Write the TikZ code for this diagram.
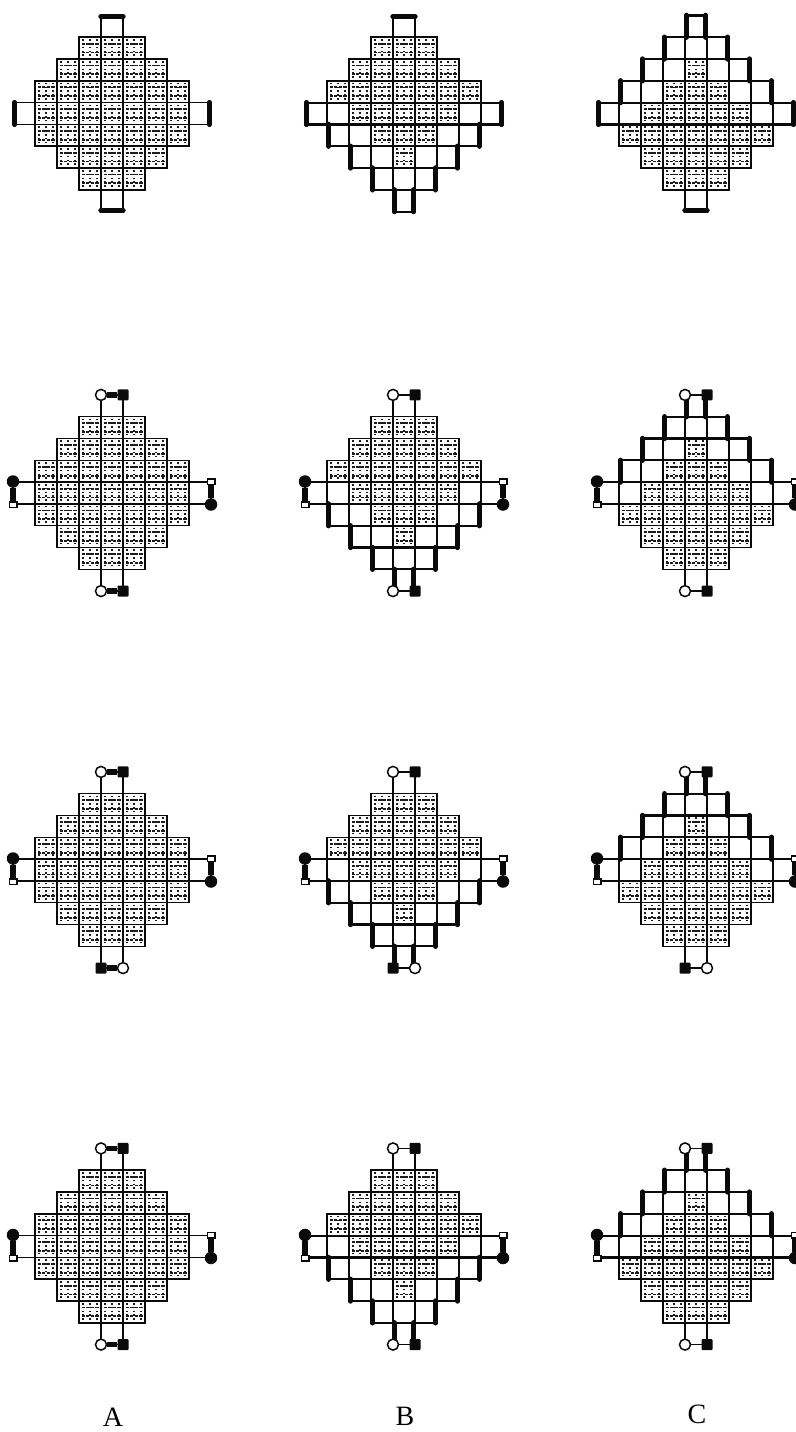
\documentclass[tikz,border=0pt]{standalone}
\usepackage{fontspec}
\setmainfont{Liberation Serif}
\usepackage{tikz}
\usetikzlibrary{positioning,calc}
\definecolor{latInk}{HTML}{0A0A0A}
\definecolor{latDot}{HTML}{1C1C1C}
\tikzset{
  latCell/.style={draw=latInk, line width=1.5pt},
  latDash/.style={draw=latDot, line width=1.8pt, dash pattern=on 3.2pt off 1.4pt},
  latDotted/.style={draw=latDot, line width=1.5pt, dash pattern=on 1.6pt off 2.2pt},
  latHeavy/.style={draw=latInk, line width=5.4pt, line cap=round},
  latMedium/.style={draw=latInk, line width=2.2pt, line cap=round},
  latThin/.style={draw=latInk, line width=1.5pt},
  latOpen/.style={circle, draw=latInk, fill=white, line width=1.5pt, minimum size=11pt, inner sep=0pt},
  latDisc/.style={circle, fill=latInk, minimum size=12.5pt, inner sep=0pt},
  latBlock/.style={rectangle, rounded corners=1pt, fill=latInk, minimum size=11pt, inner sep=0pt},
  latSlot/.style={rectangle, draw=latInk, fill=white, line width=1.5pt, minimum width=7.5pt, minimum height=5.5pt, inner sep=0pt},
  latLabel/.style={font=\fontsize{28}{30}\selectfont, inner sep=0pt}
}
% #1 name, #2 x, #3 y, #4 kind (0,1,2), #5 ends (0 bare, 1 open left, 2 open right)
\newcommand{\latticePanel}[5]{
  \begin{scope}[shift={(#2,#3)}]
    \pgfmathsetmacro{\flipY}{#4==2 ? -1 : 1}
    \foreach \r in {0,...,8} {
      \pgfmathtruncatemacro{\halfW}{4-abs(\r-4)}
      \pgfmathtruncatemacro{\lowC}{-\halfW}
      \pgfmathtruncatemacro{\rowK}{#4==2 ? 8-\r : \r}
      \pgfmathtruncatemacro{\limC}{#4==0 ? (\r==4 ? 3 : ((\r==0 || \r==8) ? -1 : \halfW)) : (\rowK==0 ? -1 : (\rowK<4 ? \rowK : 6-\rowK))}
      \foreach \c in {\lowC,...,\halfW} {
        \pgfmathsetmacro{\cx}{\c*22}
        \pgfmathsetmacro{\cy}{(\r-4)*21.8}
        \draw[latCell] (\cx-11,\cy-10.9) rectangle (\cx+11,\cy+10.9);
        \pgfmathtruncatemacro{\isShaded}{abs(\c)<=\limC ? 1 : 0}
        \ifnum\isShaded=1
          \draw[latDash] (\cx-8.5,\cy-4.4) -- (\cx+8.5,\cy-4.4);
          \draw[latDash] (\cx-8.5,\cy+4.4) -- (\cx+8.5,\cy+4.4);
          \draw[latDotted] (\cx-7,\cy-9) -- (\cx-7,\cy+9);
          \draw[latDotted] (\cx,\cy-9) -- (\cx,\cy+9);
          \draw[latDotted] (\cx+7,\cy-9) -- (\cx+7,\cy+9);
        \fi
      }
    }
    \ifnum#4>0
      \foreach \k in {1,...,4} {
        \pgfmathsetmacro{\edgeX}{(4.5-\k)*22-1.5}
        \pgfmathsetmacro{\edgeA}{(\k-0.5)*21.8*\flipY}
        \pgfmathsetmacro{\edgeB}{(\k+0.5)*21.8*\flipY}
        \draw[latHeavy] (-\edgeX,\edgeA) -- (-\edgeX,\edgeB);
        \draw[latHeavy] (\edgeX,\edgeA) -- (\edgeX,\edgeB);
      }
      \foreach \k in {0,...,3} {
        \pgfmathsetmacro{\edgeX}{(4.5-\k)*22}
        \pgfmathsetmacro{\edgeB}{(\k+0.5)*21.8*\flipY}
        \draw[latMedium] (-\edgeX,\edgeB) -- (\edgeX,\edgeB);
      }
      \pgfmathsetmacro{\edgeB}{-10.9*\flipY}
      \draw[latMedium] (-99,\edgeB) -- (99,\edgeB);
    \fi
    \ifnum#5=0
      \draw[latHeavy] (-97.5,-10.9) -- (-97.5,10.9);
      \draw[latHeavy] (97.5,-10.9) -- (97.5,10.9);
      \ifnum#4=2
        \draw[latMedium] (-11,-98.1) -- (11,-98.1);
      \else
        \draw[latHeavy] (-11,-97) -- (11,-97);
      \fi
      \ifnum#4=1
        \draw[latMedium] (-11,98.1) -- (11,98.1);
      \else
        \draw[latHeavy] (-11,97) -- (11,97);
      \fi
    \else
      \node[latOpen] (#1topL) at (-11,-98.1) {};
      \node[latBlock] (#1topR) at (11,-98.1) {};
      \ifnum#5=1
        \node[latOpen] (#1botL) at (-11,98.1) {};
        \node[latBlock] (#1botR) at (11,98.1) {};
      \else
        \node[latBlock] (#1botL) at (-11,98.1) {};
        \node[latOpen] (#1botR) at (11,98.1) {};
      \fi
      \node[latDisc] (#1lefT) at (-99,-11.5) {};
      \node[latSlot] (#1lefB) at (-99,11.5) {};
      \node[latSlot] (#1rigT) at (99,-11.5) {};
      \node[latDisc] (#1rigB) at (99,11.5) {};
      \draw[latHeavy, line cap=butt] (#1lefT) -- (#1lefB);
      \draw[latHeavy, line cap=butt] (#1rigT) -- (#1rigB);
      \ifnum#4=0
        \draw[latHeavy, line cap=butt] (#1topL) -- (#1topR);
        \draw[latHeavy, line cap=butt] (#1botL) -- (#1botR);
      \else
        \draw[latThin] (#1topL) -- (#1topR);
        \draw[latThin] (#1botL) -- (#1botR);
      \fi
    \fi
  \end{scope}
}

\begin{document}
\begin{tikzpicture}[x=1pt, y=-1pt]
  \useasboundingbox (0,0) rectangle (795,1432);
  \foreach \kindN/\colX/\colN in {0/112/a,1/404/b,2/696/c}
    \foreach \rowY/\endM/\rowN in {113.5/0/p,493/1/q,870/2/r,1246.5/1/s}
      {\latticePanel{\colN\rowN}{\colX}{\rowY}{\kindN}{\endM}}
  \node[latLabel] (labelA) at (113,1417) {A};
  \node[latLabel] (labelB) at (405,1416) {B};
  \node[latLabel] (labelC) at (697,1414) {C};
\end{tikzpicture}
\end{document}
